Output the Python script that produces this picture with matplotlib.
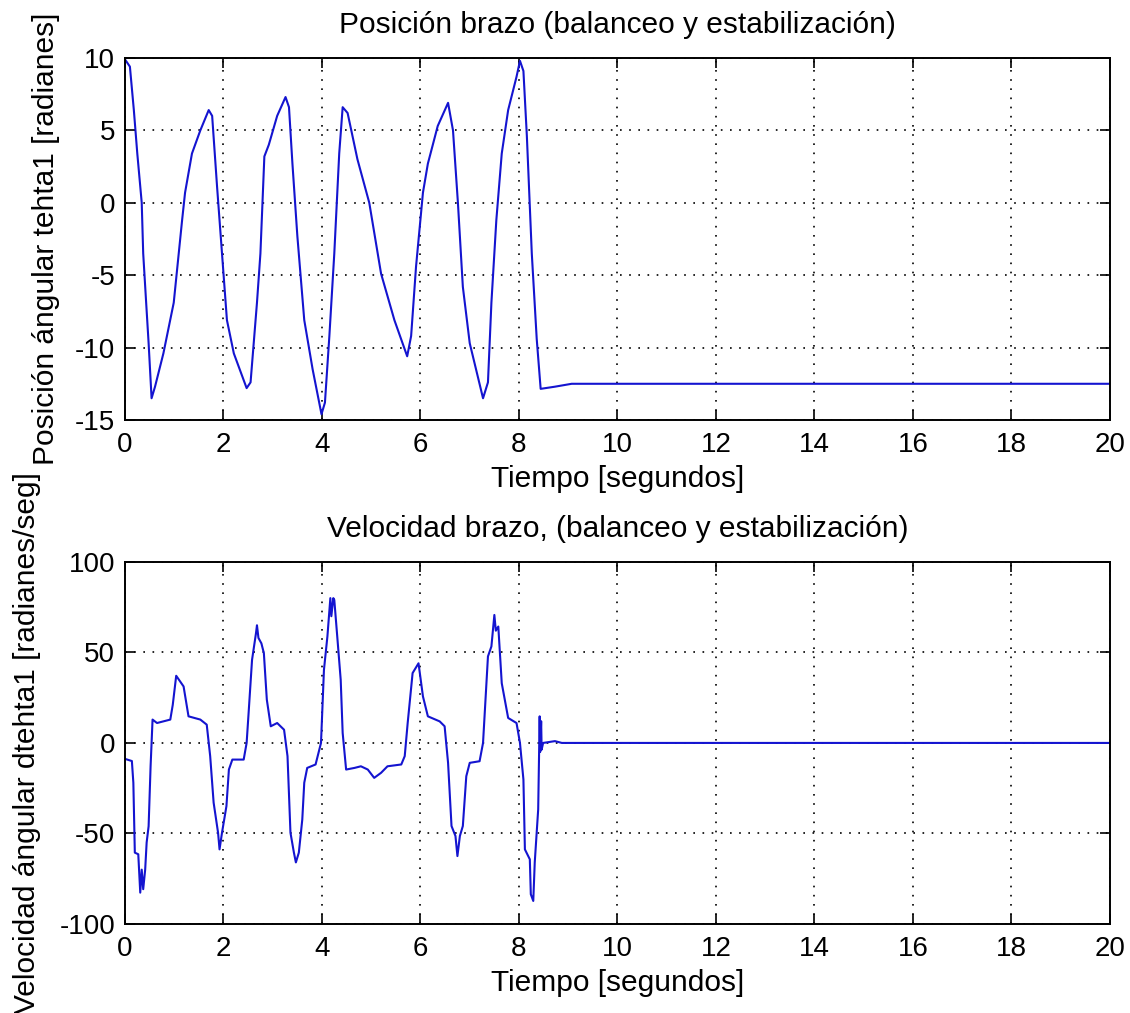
import matplotlib
matplotlib.use("Agg")
import matplotlib.pyplot as plt

# ---- data: arm angular position (top) ----
t_pos = [0.0, 0.1, 0.18, 0.25, 0.34, 0.37, 0.43, 0.48, 0.54, 0.61, 0.78, 0.99, 1.16, 1.22,
         1.36, 1.53, 1.70, 1.77, 1.87, 1.97, 2.07, 2.21, 2.47, 2.55, 2.68, 2.75, 2.83, 2.92,
         3.09, 3.26, 3.33, 3.40, 3.50, 3.64, 3.81, 3.99, 4.06, 4.15, 4.25, 4.35, 4.42, 4.52,
         4.72, 4.96, 5.20, 5.47, 5.73, 5.81, 5.91, 6.05, 6.15, 6.35, 6.56, 6.66, 6.76, 6.86,
         7.00, 7.27, 7.37, 7.44, 7.54, 7.65, 7.78, 7.95, 8.02, 8.09, 8.16, 8.26, 8.36, 8.44,
         8.73, 9.07, 20.0]
v_pos = [9.9, 9.4, 6.4, 3.4, 0.0, -3.5, -6.9, -9.7, -13.5, -12.7, -10.4, -6.9, -1.2, 0.7,
         3.4, 5.0, 6.4, 6.0, 1.1, -3.5, -8.1, -10.4, -12.8, -12.4, -6.9, -3.5, 3.2, 4.0,
         6.0, 7.3, 6.6, 2.7, -2.3, -8.1, -11.5, -14.6, -13.8, -9.2, -3.5, 3.4, 6.6, 6.2,
         3.0, 0.0, -4.9, -8.1, -10.6, -9.2, -4.4, 0.7, 2.7, 5.3, 6.9, 5.0, 0.0, -5.8,
         -9.7, -13.5, -12.4, -6.9, -1.2, 3.4, 6.4, 8.7, 9.8, 9.1, 4.6, -3.5, -9.4, -12.85,
         -12.7, -12.5, -12.5]

# ---- data: arm angular velocity (bottom) ----
t_vel = [0.0, 0.14, 0.17, 0.20, 0.27, 0.31, 0.34, 0.37, 0.41, 0.44, 0.48, 0.52, 0.56, 0.65,
         0.92, 0.97, 1.04, 1.19, 1.29, 1.53, 1.66, 1.73, 1.80, 1.89, 1.92, 1.97, 2.06, 2.11,
         2.18, 2.41, 2.47, 2.51, 2.58, 2.66, 2.68, 2.71, 2.77, 2.82, 2.88, 2.96, 3.09, 3.23,
         3.30, 3.36, 3.43, 3.47, 3.53, 3.60, 3.64, 3.70, 3.87, 3.98, 4.04, 4.11, 4.17, 4.19,
         4.23, 4.25, 4.31, 4.38, 4.42, 4.49, 4.66, 4.79, 4.93, 5.06, 5.20, 5.33, 5.61, 5.68,
         5.74, 5.84, 5.96, 6.05, 6.15, 6.39, 6.49, 6.56, 6.63, 6.71, 6.75, 6.80, 6.86, 6.93,
         7.00, 7.20, 7.27, 7.37, 7.44, 7.50, 7.53, 7.58, 7.65, 7.78, 7.95, 8.02, 8.09, 8.12,
         8.22, 8.24, 8.29, 8.32, 8.39, 8.42, 8.43, 8.45, 8.46, 8.49, 8.73, 8.87, 20.0]
v_vel = [-8.8, -10.0, -22.0, -60.6, -61.5, -82.7, -70.0, -80.8, -70.0, -55.0, -46.0, -12.9, 12.9, 11.0,
         12.9, 21.0, 37.1, 31.2, 14.7, 12.9, 10.1, -7.3, -33.0, -49.6, -58.8, -49.6, -34.9, -14.7,
         -9.2, -9.2, 0.0, 16.5, 45.9, 60.6, 65.0, 58.0, 55.0, 49.6, 23.9, 9.2, 11.0, 7.3,
         -7.3, -49.6, -60.6, -66.0, -60.6, -42.3, -22.0, -13.8, -11.9, 0.0, 40.4, 58.8, 80.0, 70.0,
         80.0, 79.0, 58.8, 34.9, 5.5, -14.7, -13.8, -12.9, -14.7, -19.3, -16.5, -12.9, -11.9, -7.3,
         11.0, 38.6, 44.0, 25.7, 14.7, 11.9, 9.2, -11.0, -45.9, -51.4, -62.5, -51.4, -45.9, -18.4,
         -11.0, -10.1, 0.0, 47.8, 53.3, 70.7, 62.0, 64.3, 33.0, 13.8, 11.0, 0.0, -20.2, -58.8,
         -64.3, -83.6, -87.3, -66.0, -36.7, 14.7, -5.0, 12.0, -3.7, 0.0, 1.0, 0.0, 0.0]

x_ticks = list(range(0, 21, 2))
pos_ticks = [-15, -10, -5, 0, 5, 10]
vel_ticks = [-100, -50, 0, 50, 100]

plt.rcParams['font.family'] = ['Liberation Sans', 'DejaVu Sans']
plt.rcParams['axes.unicode_minus'] = False
FS = 21.5
TFS = 20

fig = plt.figure(figsize=(11.30, 10.13), dpi=100)
ax1 = fig.add_axes([0.1106, 0.5854, 0.8717, 0.3574])
ax2 = fig.add_axes([0.1106, 0.0879, 0.8717, 0.3574])

line_color = '#1414d0'

def style(ax, yticks, ylim):
    ax.set_xlim(0, 20)
    ax.set_ylim(*ylim)
    ax.set_xticks(x_ticks)
    ax.set_yticks(yticks)
    ax.tick_params(direction='in', length=7, width=1.2, top=True, right=True,
                   labelsize=TFS, colors='black')
    ax.tick_params(axis='x', pad=9)
    ax.tick_params(axis='y', pad=7)
    ax.grid(True, color='black', linestyle=(0, (1, 4.5)), linewidth=1.2)
    for s in ax.spines.values():
        s.set_linewidth(1.4)
        s.set_color('black')

ax1.plot(t_pos, v_pos, color=line_color, linewidth=1.5)
style(ax1, pos_ticks, (-15, 10))
ax1.set_title('Posición brazo (balanceo y estabilización)', fontsize=FS, pad=18)
ax1.set_xlabel('Tiempo [segundos]', fontsize=FS, labelpad=5)
ax1.set_ylabel('Posición ángular tehta1 [radianes]', fontsize=FS, labelpad=11)

ax2.plot(t_vel, v_vel, color=line_color, linewidth=1.5)
style(ax2, vel_ticks, (-100, 100))
ax2.set_title('Velocidad brazo, (balanceo y estabilización)', fontsize=FS, pad=18)
ax2.set_xlabel('Tiempo [segundos]', fontsize=FS, labelpad=5)
ax2.set_ylabel('Velocidad ángular dtehta1 [radianes/seg]', fontsize=FS, labelpad=13)

fig.savefig('out.png', dpi=100, facecolor='white')
